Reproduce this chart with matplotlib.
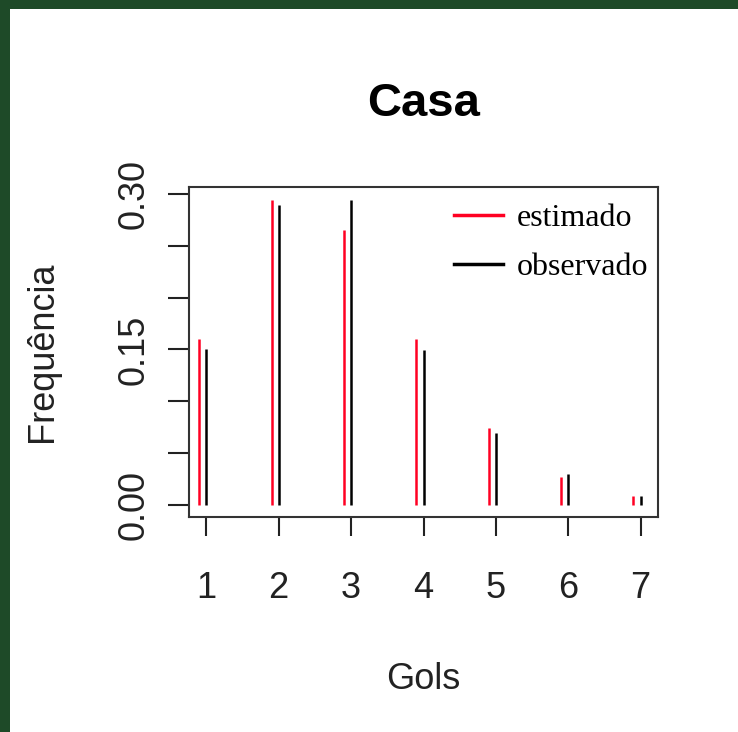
import numpy as np
import matplotlib.pyplot as plt
from matplotlib.patches import Rectangle
from matplotlib.lines import Line2D

# values
gols = np.array([1, 2, 3, 4, 5, 6, 7])
estimado = [0.160, 0.294, 0.265, 0.160, 0.074, 0.027, 0.008]
observado = [0.150, 0.289, 0.294, 0.149, 0.069, 0.030, 0.008]
ytick_vals = [0.0, 0.05, 0.10, 0.15, 0.20, 0.25, 0.30]
ytick_labels = ['0.00', '', '', '0.15', '', '', '0.30']

sans = 'Liberation Sans'
serif = 'Liberation Serif'
txt = '#222222'

fig = plt.figure(figsize=(7.38, 7.32), dpi=100, facecolor='#1e4a28')
# white panel on top of the green slide background
fig.patches.append(Rectangle((10 / 738, 0), 1, 1 - 9 / 732, transform=fig.transFigure,
                             facecolor='white', edgecolor='none', zorder=-5))

ax = fig.add_axes([189 / 738, 1 - 517 / 732, (658 - 189) / 738, (517 - 187) / 732])
ax.set_facecolor('white')

ax.vlines(gols - 0.1, 0, estimado, color='#ff0022', linewidth=1.8)
ax.vlines(gols, 0, observado, color='black', linewidth=1.8)

ax.set_xlim(0.76, 7.24)
ax.set_ylim(-0.0118, 0.3068)

ax.set_xticks(gols)
ax.set_xticklabels([str(g) for g in gols], fontname=sans, fontsize=26, color=txt)
ax.set_yticks(ytick_vals)
ax.set_yticklabels(ytick_labels, fontname=sans, fontsize=26, color=txt,
                   rotation=90, va='center')
ax.tick_params(axis='x', length=14, width=1.5, pad=25, color='#222222')
ax.tick_params(axis='y', length=15, width=1.5, pad=12, color='#222222')

for sp in ax.spines.values():
    sp.set_linewidth(1.5)
    sp.set_color('#333333')

ax.set_title('Casa', fontname=sans, fontweight='bold', fontsize=34, pad=51)
ax.set_xlabel('Gols', fontname=sans, fontsize=26, color=txt, labelpad=40)
ax.set_ylabel('Frequência', fontname=sans, fontsize=26, color=txt, labelpad=41)

handles = [Line2D([], [], color='#ff0022', linewidth=2.5),
           Line2D([], [], color='black', linewidth=2.5)]
fig.legend(handles, ['estimado', 'observado'], loc='upper left', frameon=False,
           prop={'family': serif, 'size': 23}, handlelength=1.53, handletextpad=0.44,
           labelspacing=0.6, borderpad=0, borderaxespad=0,
           bbox_to_anchor=(454 / 738, 1 - 204 / 732), bbox_transform=fig.transFigure)

fig.savefig('out.png', dpi=100, facecolor=fig.get_facecolor())
